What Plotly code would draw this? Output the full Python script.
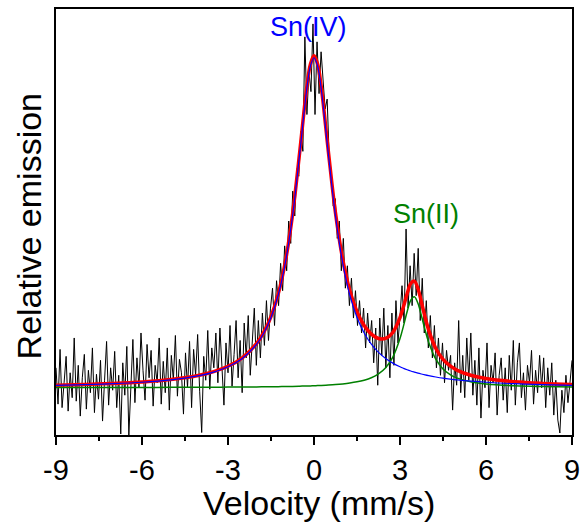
import numpy as np
import plotly.graph_objects as go

# ---- measured spectrum (relative emission), 256 channels from -9 to 9 mm/s ----
counts = [
    1.35, 0.62, 1.72, 0.55, 1.05, 1.58, 0.48, 1.25, 0.75, 1.95, 0.68, 1.40, 0.38, 1.15, 1.62, 0.52, 1.30, 0.85, 1.75, 0.45,
    1.22, 0.72, 1.50, 0.28, 1.10, 1.88, 0.60, 1.35, 0.90, 1.68, 0.55, 1.20, 0.02, 1.45, 0.80, 1.78, 0.00, 1.05, 1.92, 0.65,
    1.55, 0.95, 2.05, 1.30, 0.70, 1.82, 1.15, 1.70, 0.58, 1.40, 1.05, 1.95, 0.62, 1.48, 0.85, 1.75, 0.50, 1.60, 1.10, 2.00,
    0.78, 1.52, 1.25, 0.42, 1.65, 0.95, 1.88, 0.55, 1.72, 1.20, 2.02, 0.88, 0.05, 1.58, 1.10, 2.10, 0.92, 1.75, 1.35, 2.05,
    1.05, 2.15, 1.40, 0.60, 1.85, 1.25, 2.20, 0.98, 1.62, 2.30, 1.15, 1.90, 0.85, 2.25, 1.55, 2.40, 1.20, 1.95, 2.55, 1.40,
    2.30, 1.55, 2.45, 1.80, 2.70, 1.90, 2.55, 2.95, 2.20, 3.10, 2.60, 3.45, 2.90, 3.80, 3.30, 4.30, 3.85, 4.90, 4.40, 5.35,
    5.20, 6.10, 5.70, 8.00, 6.44, 7.30, 6.90, 8.26, 6.44, 7.90, 6.86, 7.70, 7.05, 6.55, 6.75, 5.60, 5.30, 4.60, 4.75, 3.95,
    4.30, 3.30, 3.95, 2.95, 3.40, 2.60, 3.15, 2.35, 2.90, 2.20, 2.70, 2.05, 2.55, 1.75, 2.45, 1.85, 2.30, 1.45, 2.15, 1.00,
    2.35, 1.60, 2.55, 1.35, 2.20, 1.15, 2.45, 1.40, 2.70, 1.85, 2.40, 3.00, 2.25, 4.14, 2.55, 3.40, 2.60, 3.65, 2.80, 3.75,
    2.30, 3.15, 2.05, 2.70, 1.75, 2.40, 1.55, 2.20, 1.35, 1.95, 1.20, 1.85, 1.05, 1.70, 1.30, 1.60, 0.50, 1.45, 1.00, 2.30,
    0.85, 1.60, 0.75, 1.95, 1.10, 2.05, 0.80, 1.50, 0.60, 1.75, 0.34, 1.30, 0.95, 1.85, 0.55, 1.40, 1.05, 1.65, 0.40, 1.20,
    1.55, 0.70, 1.35, 0.45, 1.60, 0.90, 1.90, 0.60, 1.45, 1.85, 0.75, 1.25, 0.50, 1.40, 1.05, 1.70, 0.62, 1.30, 0.85, 1.60,
    0.95, 1.55, 0.55, 1.35, 0.80, 1.45, 0.40, 1.10, 0.30, 0.04, 0.90, 0.45, 1.20, 0.65, 1.05, 1.50,
]
velocity = np.linspace(-9, 9, len(counts))

# ---- fitted curves, read at these velocities ----
fit_v = [-9, -8, -7, -6, -5, -4, -3.5, -3, -2.5, -2, -1.75, -1.5, -1.25, -1, -0.75, -0.5, -0.25, -0.125,
         0, 0.125, 0.25, 0.5, 0.75, 1, 1.25, 1.5, 1.75, 2, 2.25, 2.5, 2.75, 3, 3.125, 3.25, 3.375, 3.5,
         3.625, 3.75, 3.875, 4, 4.25, 4.5, 4.75, 5, 5.5, 6, 7, 8, 9]
sn4_fit = [0.999, 1.012, 1.031, 1.060, 1.108, 1.193, 1.264, 1.370, 1.538, 1.825, 2.049, 2.361, 2.808, 3.458,
           4.395, 5.649, 6.963, 7.414, 7.580, 7.414, 6.963, 5.649, 4.395, 3.458, 2.808, 2.361, 2.049, 1.825,
           1.661, 1.538, 1.444, 1.370, 1.339, 1.311, 1.286, 1.264, 1.243, 1.225, 1.208, 1.193, 1.166, 1.143,
           1.124, 1.108, 1.081, 1.060, 1.031, 1.012, 0.999]
sn2_fit = [0.953, 0.954, 0.955, 0.956, 0.957, 0.959, 0.960, 0.962, 0.964, 0.966, 0.968, 0.970, 0.972, 0.974,
           0.977, 0.981, 0.985, 0.987, 0.990, 0.993, 0.996, 1.004, 1.014, 1.027, 1.044, 1.068, 1.102, 1.151,
           1.228, 1.352, 1.566, 1.938, 2.198, 2.481, 2.708, 2.777, 2.648, 2.391, 2.110, 1.865, 1.523, 1.327,
           1.213, 1.142, 1.064, 1.025, 0.989, 0.974, 0.966]
total_fit = [1.002, 1.016, 1.036, 1.066, 1.115, 1.202, 1.274, 1.382, 1.552, 1.841, 2.067, 2.381, 2.830, 3.482,
             4.422, 5.680, 6.998, 7.451, 7.620, 7.457, 7.009, 5.703, 4.459, 3.535, 2.902, 2.479, 2.201, 2.026,
             1.939, 1.940, 2.060, 2.358, 2.587, 2.842, 3.044, 3.091, 2.941, 2.666, 2.368, 2.108, 1.739, 1.520,
             1.387, 1.300, 1.195, 1.135, 1.070, 1.036, 1.015]

tick_vals = [-9, -6, -3, 0, 3, 6, 9]
tick_text = ["-9", "-6", "-3", "0", "3", "6", "9"]

FONT = "Liberation Sans, Arial, sans-serif"

fig = go.Figure()
fig.add_trace(go.Scatter(x=velocity, y=counts, mode="lines",
                         line=dict(color="black", width=1), showlegend=False))
fig.add_trace(go.Scatter(x=fit_v, y=total_fit, mode="lines", line_shape="spline",
                         line=dict(color="#FF0000", width=3.5), showlegend=False))
fig.add_trace(go.Scatter(x=fit_v, y=sn2_fit, mode="lines", line_shape="spline",
                         line=dict(color="#008000", width=1.5), showlegend=False))
fig.add_trace(go.Scatter(x=fit_v, y=sn4_fit, mode="lines", line_shape="spline",
                         line=dict(color="#0000FF", width=1.2), showlegend=False))

fig.update_layout(
    width=587, height=524,
    margin=dict(l=56, r=9, t=7, b=89),
    plot_bgcolor="white", paper_bgcolor="white",
    font=dict(family=FONT, color="black"),
    xaxis=dict(range=[-9, 9], showline=True, mirror=True, linecolor="black", linewidth=2,
               showgrid=False, zeroline=False, ticks="outside", ticklen=8, tickwidth=2,
               tickcolor="black", tickmode="array", tickvals=tick_vals, ticktext=tick_text,
               tickfont=dict(size=29, family=FONT),
               minor=dict(dtick=1.5, tick0=-9, ticks="outside", ticklen=4, tickwidth=2, tickcolor="black")),
    yaxis=dict(range=[0, 8.56], showline=True, mirror=True, linecolor="black", linewidth=2,
               showgrid=False, zeroline=False, showticklabels=False, ticks=""),
    annotations=[
        dict(text="Velocity (mm/s)", xref="paper", yref="paper", x=0.51, y=-0.16,
             xanchor="center", yanchor="middle", showarrow=False, font=dict(size=34, family=FONT)),
        dict(text="Relative emission", xref="paper", yref="paper", x=-0.052, y=0.49,
             xanchor="center", yanchor="middle", textangle=-90, showarrow=False,
             font=dict(size=34, family=FONT)),
        dict(text="Sn(IV)", x=-0.2, y=8.2, xref="x", yref="y", showarrow=False,
             xanchor="center", yanchor="middle", font=dict(size=27, color="#0000FF", family=FONT)),
        dict(text="Sn(II)", x=3.9, y=4.44, xref="x", yref="y", showarrow=False,
             xanchor="center", yanchor="middle", font=dict(size=27, color="#008000", family=FONT)),
    ],
)

fig.write_html("out.html")
